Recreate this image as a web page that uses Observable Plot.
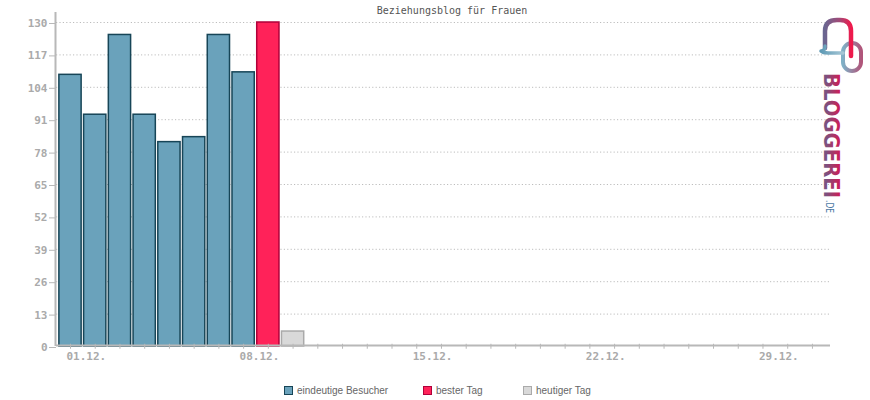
<!DOCTYPE html>
<html>
<head>
<meta charset="utf-8">
<script src="https://cdn.jsdelivr.net/npm/d3@7"></script>
<script src="https://cdn.jsdelivr.net/npm/@observablehq/plot@0.6"></script>
<style>
  html, body { margin: 0; padding: 0; background: #fff; }
  #wrap { position: relative; width: 870px; height: 400px; overflow: hidden; }
  #title { position: absolute; top: 5px; left: 452px; transform: translateX(-50%);
           font: 10px "DejaVu Sans Mono", monospace; color: #555; white-space: nowrap; }
  #chart { position: absolute; left: 0; top: 0; }
  #legend { position: absolute; top: 385px; left: 0; width: 870px; height: 14px;
            font: 10px "Liberation Sans", Arial, sans-serif; color: #666; }
  .item { position: absolute; top: 0; display: flex; align-items: center; white-space: nowrap; }
  .sw { width: 7px; height: 7px; border: 1.5px solid; margin-right: 4px; }
  #logo { position: absolute; left: 812px; top: 12px; overflow: visible; }
</style>
</head>
<body>
<div id="wrap">
  <div id="chart"></div>
  <div id="title"></div>
  <div id="legend"></div>
  <svg id="logo" width="58" height="230" viewBox="0 0 58 230">
    <defs>
      <linearGradient id="gtext" x1="0" y1="0" x2="0" y2="1">
        <stop offset="0" stop-color="#e0114c"/>
        <stop offset="0.5" stop-color="#9a3f6e"/>
        <stop offset="1" stop-color="#4d6f98"/>
      </linearGradient>
      <linearGradient id="gb1" x1="0" y1="0" x2="1" y2="0">
        <stop offset="0" stop-color="#6a6590"/>
        <stop offset="0.55" stop-color="#a04a78"/>
        <stop offset="1" stop-color="#ee1a4c"/>
      </linearGradient>
      <linearGradient id="gtail" x1="0" y1="0" x2="1" y2="0">
        <stop offset="0" stop-color="#5f9ab5"/>
        <stop offset="1" stop-color="#a6c7d6"/>
      </linearGradient>
      <linearGradient id="gb2" x1="0" y1="0" x2="1" y2="0">
        <stop offset="0" stop-color="#7fb0c6"/>
        <stop offset="1" stop-color="#b0557a"/>
      </linearGradient>
    </defs>
    <rect x="31" y="31" width="18" height="28" rx="9" ry="9"
          fill="none" stroke="url(#gb2)" stroke-width="4"/>
    <path d="M 13 36 L 13 19 Q 13 8 25 8 L 28 8 Q 39 8 39 19 L 39 44"
          fill="none" stroke="url(#gb1)" stroke-width="4.5" stroke-linecap="round" stroke-linejoin="round"/>
    <path d="M 13 34 Q 13 39 9 39 Q 11 41 16 41 L 31 41"
          fill="none" stroke="url(#gtail)" stroke-width="3.5" stroke-linecap="round" stroke-linejoin="round"/>
    <text transform="translate(11.5,61) rotate(90)" font-family="DejaVu Sans, sans-serif" font-weight="bold" font-size="22"
          textLength="125" lengthAdjust="spacingAndGlyphs" fill="url(#gtext)">BLOGGEREI</text>
    <text transform="translate(13.5,188) rotate(90)" font-family="DejaVu Sans, sans-serif" font-size="11"
          textLength="13" lengthAdjust="spacingAndGlyphs" fill="#4d7aa5">.DE</text>
  </svg>
</div>
<script>
// ---- data ----
const chartTitle = "Beziehungsblog für Frauen";
const visitorDays = [1, 2, 3, 4, 5, 6, 7, 8];
const visitorValues = [109, 93, 125, 93, 82, 84, 125, 110];
const bestDays = [9];
const bestValues = [130];
const todayDays = [10];
const todayValues = [6];
const monthDays = d3.range(1, 32);
const labelDays = [1, 8, 15, 22, 29];
const dayLabels = ["01.12.", "08.12.", "15.12.", "22.12.", "29.12."];
const yTicks = [0, 13, 26, 39, 52, 65, 78, 91, 104, 117, 130];
const legendLabels = ["eindeutige Besucher", "bester Tag", "heutiger Tag"];

// ---- colours ----
const blueFill = "#6aa2bb", blueStroke = "#174557";
const redFill = "#ff2259", redStroke = "#b0003a";
const greyFill = "#d9d9d9", greyStroke = "#aaaaaa";
const axisGrey = "#b8b8b8";

const visitors = visitorDays.map((d, i) => ({day: d, value: visitorValues[i]}));
const best = bestDays.map((d, i) => ({day: d, value: bestValues[i]}));
const today = todayDays.map((d, i) => ({day: d, value: todayValues[i]}));
const half = 0.45;

const chart = Plot.plot({
  width: 870,
  height: 400,
  marginTop: 12,
  marginBottom: 54,
  marginLeft: 56,
  marginRight: 40,
  style: {fontFamily: "DejaVu Sans Mono, monospace", fontSize: "11px", color: "#aaa", background: "transparent"},
  x: {domain: [0.434, 31.73], axis: null},
  y: {domain: [0, 130], range: [346, 22], axis: null},
  marks: [
    Plot.gridY(yTicks.filter(t => t > 0), {stroke: "#bdbdbd", strokeOpacity: 1, strokeDasharray: "1.2,2.2"}),
    Plot.rectY(visitors, {x1: d => d.day - half, x2: d => d.day + half, y: "value", fill: blueFill, stroke: blueStroke, strokeWidth: 1.5}),
    Plot.rectY(best, {x1: d => d.day - half, x2: d => d.day + half, y: "value", fill: redFill, stroke: redStroke, strokeWidth: 1.5}),
    Plot.rectY(today, {x1: d => d.day - half, x2: d => d.day + half, y: "value", fill: greyFill, stroke: greyStroke, strokeWidth: 1.5}),
    Plot.axisY({ticks: yTicks, label: null, tickSize: 7, tickPadding: 2, stroke: axisGrey, fill: "#aaa", fontWeight: "bold", dy: 1}),
    Plot.ruleY([0], {stroke: axisGrey, strokeWidth: 2, dy: -1}),
    Plot.ruleX(monthDays, {x: d => d, y1: -1.1, y2: 0.9, stroke: axisGrey, strokeWidth: 1}),
    Plot.ruleX([0.434], {stroke: axisGrey, strokeWidth: 2, dx: -1}),
    Plot.text(labelDays, {x: d => d, text: (d, i) => dayLabels[i], frameAnchor: "bottom", lineAnchor: "middle",
      textAnchor: "start", dx: -4, dy: 10, fill: "#aaa", fontWeight: "bold"})
  ]
});
document.getElementById("chart").appendChild(chart);
document.getElementById("title").textContent = chartTitle;

const legend = document.getElementById("legend");
const items = [
  {label: legendLabels[0], fill: blueFill, stroke: blueStroke, left: 284},
  {label: legendLabels[1], fill: redFill, stroke: redStroke, left: 423},
  {label: legendLabels[2], fill: greyFill, stroke: greyStroke, left: 523}
];
for (const it of items) {
  const div = document.createElement("div");
  div.className = "item";
  div.style.left = it.left + "px";
  const sw = document.createElement("span");
  sw.className = "sw";
  sw.style.background = it.fill;
  sw.style.borderColor = it.stroke;
  const tx = document.createElement("span");
  tx.textContent = it.label;
  div.appendChild(sw); div.appendChild(tx);
  legend.appendChild(div);
}
</script>
</body>
</html>
